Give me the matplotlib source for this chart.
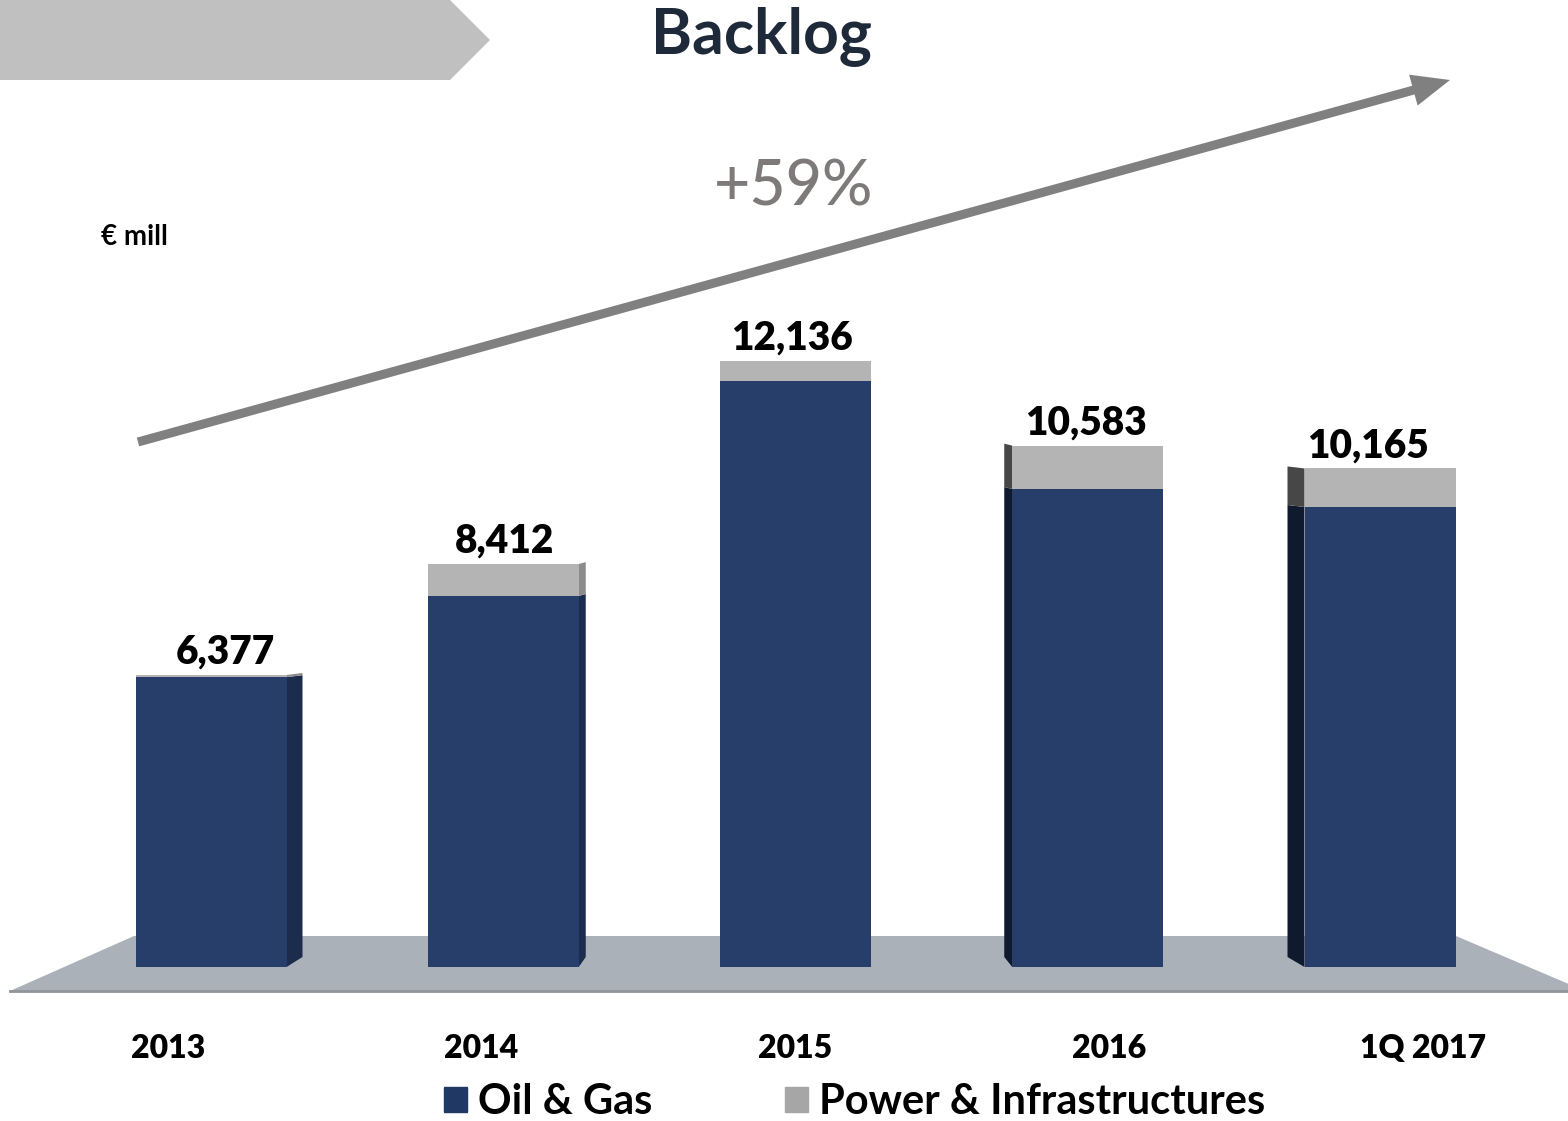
import matplotlib
matplotlib.use('Agg')
import matplotlib.pyplot as plt
import matplotlib.patches as mpatches
from matplotlib.transforms import blended_transform_factory

plt.rcParams['font.family'] = ['Lato', 'DejaVu Sans']

# data (EUR million)
years = ['2013', '2014', '2015', '2016', '1Q 2017']
totals = [6377, 8412, 12136, 10583, 10165]
power = [40, 586, 367, 795, 707]
oil = [t - p for t, p in zip(totals, power)]

navy = '#273e6a'
gray = '#b4b4b4'

W, H = 1568, 1121
fig = plt.figure(figsize=(W / 100, H / 100), dpi=100)

# background layer, pixel coordinates
bg = fig.add_axes([0, 0, 1, 1])
bg.set_xlim(0, W)
bg.set_ylim(H, 0)
bg.axis('off')

bg.add_patch(mpatches.Polygon([(10, 991), (134, 936), (1456, 936), (1585, 991)],
                              closed=True, fc='#aab1b9', ec='none'))
bg.plot([10, W], [991, 991], color='#8f959b', lw=2)
bg.add_patch(mpatches.Polygon([(0, 0), (450, 0), (490, 40), (450, 80), (0, 80)],
                              closed=True, fc='#c0c0c0', ec='none'))
bg.text(761, 36, 'Backlog', ha='center', va='center', fontsize=45,
        fontweight='bold', color='#1e2939')
bg.add_patch(mpatches.FancyArrow(138, 442, 1450 - 138, 80 - 442, width=9,
                                 head_width=32, head_length=38,
                                 length_includes_head=True, color='#808080', lw=0))
bg.text(794, 187, '+59%', ha='center', va='center', fontsize=45,
        fontweight='medium', color='#7e7a7a')
bg.text(101, 237, '€ mill', ha='left', va='center', fontsize=20, fontweight='bold')

# bars
px_per_unit = 292.25
val_per_px = 18.34
ax = fig.add_axes([0, (H - 967) / H, 1, (967 - 100) / H])
ax.patch.set_alpha(0)
ax.axis('off')
y_lo = (1022.7 - 967) * val_per_px
ax.set_ylim(y_lo, (1022.7 - 100) * val_per_px)
ax.set_xlim(-211 / px_per_unit, (W - 211) / px_per_unit)

x = list(range(len(years)))
w = 151 / px_per_unit
ax.bar(x, oil, w, color=navy, zorder=3)
ax.bar(x, power, w, bottom=oil, color=gray, zorder=3)

# side faces for the 3D look
side_px = [16, 7, 0, -8, -17]
for i in x:
    s = side_px[i] / px_per_unit
    if s == 0:
        continue
    edge = i + w / 2 if s > 0 else i - w / 2
    outer = edge + s
    rise = 10 * val_per_px
    tilt = 2 * val_per_px
    c_navy = '#1b2c4d' if s > 0 else '#0f1a2e'
    c_gray = '#8c8c8c' if s > 0 else '#474747'
    ax.add_patch(mpatches.Polygon([(edge, y_lo), (edge, oil[i]), (outer, oil[i] + tilt),
                                   (outer, y_lo + rise)], fc=c_navy, ec='none', zorder=2))
    ax.add_patch(mpatches.Polygon([(edge, oil[i]), (edge, totals[i]), (outer, totals[i] + tilt),
                                   (outer, oil[i] + tilt)], fc=c_gray, ec='none', zorder=2))

label_dx = [14, 1, -4, -2, -12]
for i in x:
    ax.annotate(f'{totals[i]:,}', (i, totals[i]), xytext=(label_dx[i] * 0.72, 3),
                textcoords='offset points', ha='center', va='bottom',
                fontsize=28, fontweight='heavy', color='black', zorder=4)

tr = blended_transform_factory(ax.transData, fig.transFigure)
for i in x:
    ax.text(i + (i - 2) * 0.074, 1 - 1048 / H, years[i], transform=tr,
            ha='center', va='center', fontsize=23, fontweight='heavy')

handles = [mpatches.Patch(color='#1f3864', label='Oil & Gas'),
           mpatches.Patch(color='#a6a6a6', label='Power & Infrastructures')]
fig.legend(handles=handles, loc='center', bbox_to_anchor=(0.5450, 1 - 1102 / H),
           ncol=2, frameon=False, prop={'size': 30, 'weight': 'bold'},
           handlelength=0.55, handleheight=0.55, handletextpad=0.25,
           columnspacing=3.2, borderpad=0)

fig.savefig('out.png', dpi=100)
